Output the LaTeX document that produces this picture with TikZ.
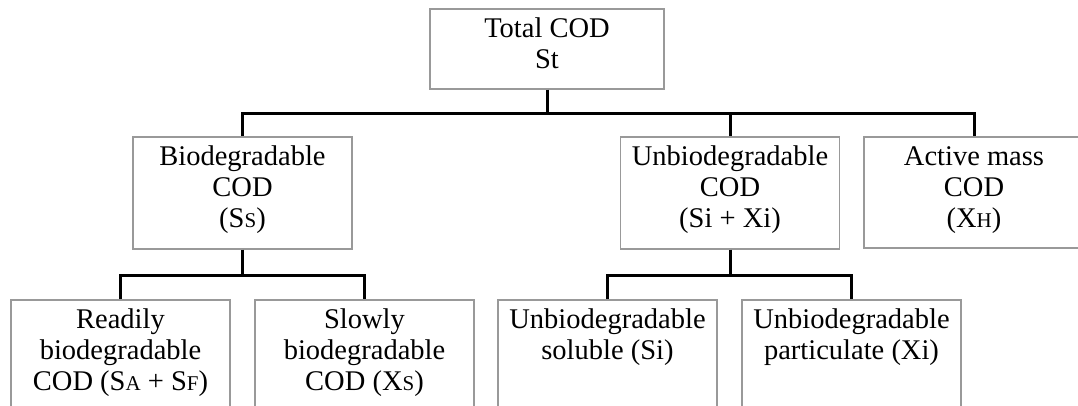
\documentclass[tikz,border=0pt]{standalone}
\usepackage{fontspec}
\setmainfont{Liberation Serif}
\usetikzlibrary{calc}
% small capitals used for the component indices
\newcommand{\sm}[1]{{\fontsize{21}{21}\selectfont #1}}
% top-aligned, centred text block of given width and height
\newcommand{\boxtext}[3]{\parbox[c][#2][t]{#1}{\centering\fontsize{28.5}{31}\selectfont\rule{0pt}{29pt}#3}}

\begin{document}
\begin{tikzpicture}[x=1pt,y=1pt,
  cbox/.style={draw=black!40, line width=1.5pt, inner sep=0pt, anchor=north},
  conn/.style={draw=black, line width=3pt}]
\useasboundingbox (0,0) rectangle (1078,-405);
\clip (0,0) rectangle (1078,-405);

% root
\node[cbox] (tot) at (547,-8) {\boxtext{234pt}{80pt}{Total COD\\St}};

% second level
\node[cbox] (bio) at (242.5,-136) {\boxtext{219pt}{112pt}{Biodegradable\\COD\\(S\sm{S})}};
\node[cbox] (unb) at (730,-136) {\boxtext{219pt}{112pt}{Unbiodegradable\\COD\\(Si + Xi)}};
\node[cbox] (act) at (974,-136) {\boxtext{220pt}{111pt}{Active mass\\COD\\(X\sm{H})}};

% third level
\node[cbox] (rbd) at (120.5,-299) {\boxtext{219pt}{112pt}{Readily\\biodegradable\\COD (S\sm{A} + S\sm{F})}};
\node[cbox] (sbd) at (364.5,-299) {\boxtext{219pt}{112pt}{Slowly\\biodegradable\\COD (X\sm{S})}};
\node[cbox] (usol) at (607.5,-299) {\boxtext{219pt}{112pt}{Unbiodegradable\\soluble (Si)}};
\node[cbox] (upart) at (851.5,-299) {\boxtext{219pt}{112pt}{Unbiodegradable\\particulate (Xi)}};

% junctions
\coordinate (j1) at ($(tot.south)+(0,-24)$);
\coordinate (j2) at ($(bio.south)+(0,-25.5)$);
\coordinate (j3) at ($(unb.south)+(0,-25.5)$);

% connectors
\draw[conn] (tot.south) -- (j1);
\draw[conn] (bio.north) |- (j1) -| (act.north);
\draw[conn] (unb.north) -- (unb.north |- j1);

\draw[conn] (bio.south) -- (j2);
\draw[conn] (rbd.north) |- (j2) -| (sbd.north);

\draw[conn] (unb.south) -- (j3);
\draw[conn] (usol.north) |- (j3) -| (upart.north);
\end{tikzpicture}
\end{document}
